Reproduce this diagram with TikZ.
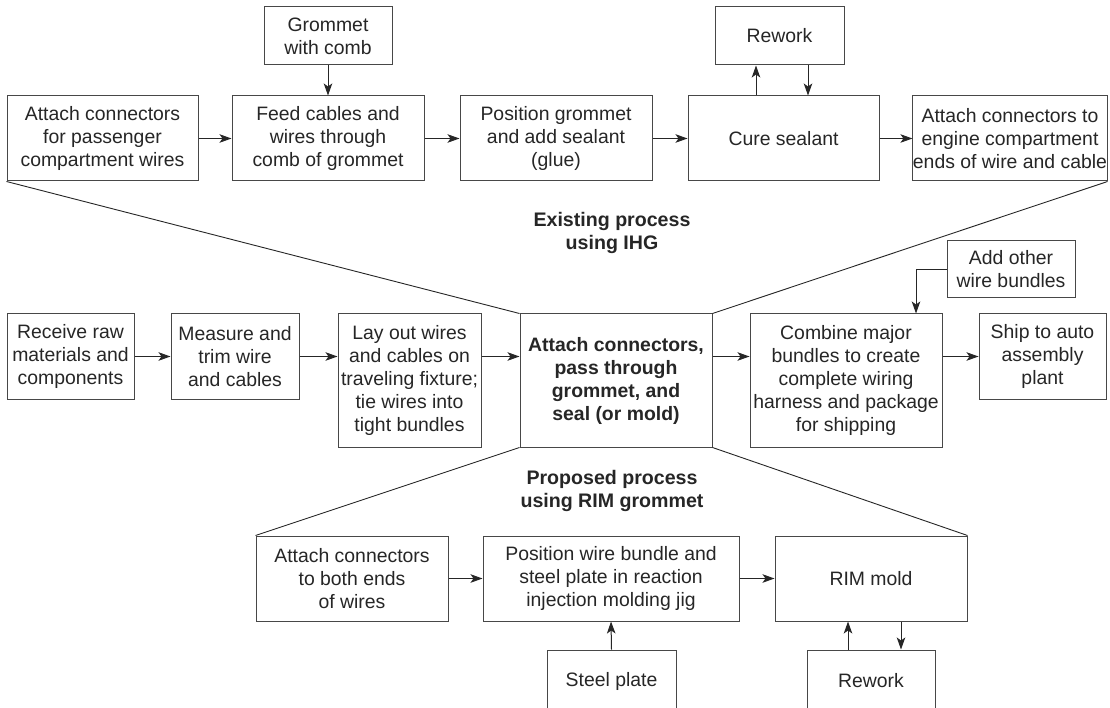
\documentclass[tikz,border=0pt]{standalone}
\usepackage{fontspec}
\setmainfont{Liberation Sans}
\usetikzlibrary{arrows.meta,calc}
\definecolor{ink}{HTML}{262626}
\definecolor{edge}{HTML}{474747}
\begin{document}
\begin{tikzpicture}[x=1pt,y=-1pt,
  box/.style={draw=edge,line width=1pt,inner sep=0pt,align=center,text=ink,
    font=\fontsize{19.4}{23}\selectfont},
  boldbox/.style={box,font=\fontsize{19.4}{23}\selectfont\bfseries},
  lbl/.style={inner sep=0pt,align=center,text=ink,font=\fontsize{19.6}{23}\selectfont\bfseries},
  arr/.style={draw=ink,line width=1pt,-{Stealth[length=12pt,width=8.5pt,inset=3pt]}},
  fan/.style={draw=ink,line width=0.9pt}]
\useasboundingbox (0,0) rectangle (1110,708);
\fill[white] (0,0) rectangle (1110,708);
\clip (0,0) rectangle (1110,708);
% top row
\node[box,minimum width=128pt,minimum height=58pt] (grom) at (328,36) {Grommet\\with comb};
\node[box,minimum width=129pt,minimum height=58pt] (rw1) at (779.5,36) {Rework};
\node[box,minimum width=191pt,minimum height=85pt] (pass) at (102.5,138.5) {Attach connectors\\for passenger\\compartment wires};
\node[box,minimum width=192pt,minimum height=85pt] (feed) at (328,138.5) {Feed cables and\\wires through\\comb of grommet};
\node[box,minimum width=192pt,minimum height=85pt] (posg) at (556,138.5) {Position grommet\\and add sealant\\(glue)};
\node[box,minimum width=191pt,minimum height=85pt] (cure) at (783.5,138.5) {Cure sealant};
\node[box,minimum width=192pt,minimum height=85pt] (eng) at (1010,138.5) {Attach connectors to\\engine compartment\\ends of wire and cable};
% labels
\node[lbl] (exist) at (612,233) {Existing process\\using IHG};
\node[lbl] (prop) at (612,491) {Proposed process\\using RIM grommet};
% middle row
\node[box,minimum width=128pt,minimum height=57pt] (add) at (1011,269.5) {Add other\\wire bundles};
\node[box,minimum width=127pt,minimum height=86pt] (recv) at (70.5,356.5) {Receive raw\\materials and\\components};
\node[box,minimum width=128pt,minimum height=86pt] (meas) at (235,356.5) {Measure and\\trim wire\\and cables};
\node[box,minimum width=143pt,minimum height=133pt] (lay) at (409.5,380.5) {Lay out wires\\and cables on\\traveling fixture;\\tie wires into\\tight bundles};
\node[boldbox,minimum width=192pt,minimum height=133pt] (ctr) at (616,380.5) {Attach connectors,\\pass through\\grommet, and\\seal (or mold)};
\node[box,minimum width=192pt,minimum height=133pt] (comb) at (846,380.5) {Combine major\\bundles to create\\complete wiring\\harness and package\\for shipping};
\node[box,minimum width=127pt,minimum height=86pt] (ship) at (1042.5,356.5) {Ship to auto\\assembly\\plant};
% bottom row
\node[box,minimum width=192pt,minimum height=85pt] (both) at (352,578.5) {Attach connectors\\to both ends\\of wires};
\node[box,minimum width=256pt,minimum height=85pt] (posw) at (611,578.5) {Position wire bundle and\\steel plate in reaction\\injection molding jig};
\node[box,minimum width=192pt,minimum height=85pt] (rim) at (871,578.5) {RIM mold};
\node[box,minimum width=129pt,minimum height=62pt] (steel) at (611.5,681) {Steel plate};
\node[box,minimum width=128pt,minimum height=62pt] (rw2) at (871,681) {Rework};
% fan lines
\draw[fan] (pass.south west) -- (ctr.north west);
\draw[fan] (eng.south east) -- (ctr.north east);
\draw[fan] (ctr.south west) -- (both.north west);
\draw[fan] (ctr.south east) -- (rim.north east);
% arrows top
\draw[arr] (grom.south) -- (feed.north);
\draw[arr] (pass.east) -- (feed.west);
\draw[arr] (feed.east) -- (posg.west);
\draw[arr] (posg.east) -- (cure.west);
\draw[arr] (cure.east) -- (eng.west);
\draw[arr] ([xshift=-27.5pt]cure.north) -- ([xshift=-27.5pt]cure.north |- rw1.south);
\draw[arr] ([xshift=24.5pt]cure.north |- rw1.south) -- ([xshift=24.5pt]cure.north);
% arrows middle
\draw[arr] (recv.east) -- (meas.west);
\draw[arr] (meas.east) -- (meas.east -| lay.west);
\draw[arr] (meas.east -| lay.east) -- (meas.east -| ctr.west);
\draw[arr] (meas.east -| ctr.east) -- (meas.east -| comb.west);
\draw[arr] (meas.east -| comb.east) -- (ship.west);
\draw[arr] (add.west) -| ([xshift=70pt]comb.north);
% arrows bottom
\draw[arr] (both.east) -- (posw.west);
\draw[arr] (posw.east) -- (rim.west);
\draw[arr] (steel.north) -- (posw.south);
\draw[arr] ([xshift=-23pt]rw2.north) -- ([xshift=-23pt]rw2.north |- rim.south);
\draw[arr] ([xshift=30pt]rim.south) -- ([xshift=30pt]rim.south |- rw2.north);
\end{tikzpicture}
\end{document}
